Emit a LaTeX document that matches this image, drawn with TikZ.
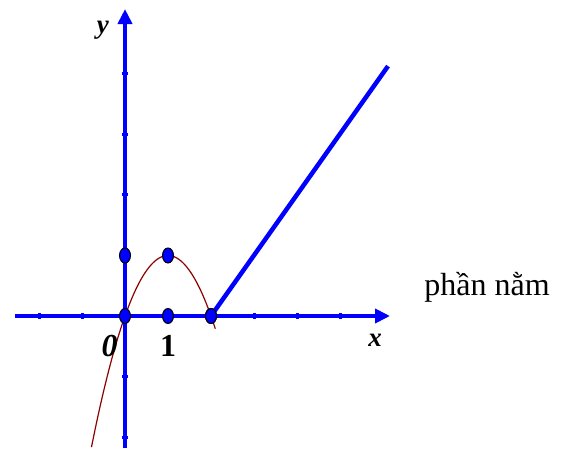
\documentclass[tikz,border=0pt]{standalone}
\usepackage{fontspec}
\setmainfont{Liberation Serif}
\usetikzlibrary{arrows.meta,shapes.geometric}
\definecolor{axblue}{RGB}{0,0,255}
\definecolor{curvered}{RGB}{140,0,0}
\begin{document}
\begin{tikzpicture}[x=43pt,y=60.5pt,
  axis/.style={line width=4.5pt,draw=axblue,-{Triangle[length=15pt,width=14pt]}},
  tickmark/.style={line width=3pt,draw=axblue},
  dotpt/.style={ellipse,draw=black,line width=1pt,fill=axblue,minimum width=11pt,minimum height=15pt,inner sep=0pt},
  lbl/.style={font=\fontsize{27}{29}\selectfont\itshape\bfseries},
  numlbl/.style={font=\fontsize{32}{34}\selectfont\bfseries}
]
\useasboundingbox (-2.907,-2.182) rectangle (10.209,5.223);
\coordinate (xs) at (-2.558,0);
\coordinate (xe) at (6.163,0);
\coordinate (ys) at (0,-2.182);
\coordinate (ye) at (0,5.074);
\coordinate (lend) at (6.116,4.13);
% ticks
\foreach \t in {-2,-1,3,4,5} \draw[tickmark] (\t,-0.05) -- (\t,0.05);
\foreach \t in {-2,-1,2,3,4} \draw[tickmark] (-0.07,\t) -- (0.07,\t);
% axes
\draw[axis] (xs) -- (xe);
\draw[axis] (ys) -- (ye);
% curve
\draw[curvered,line width=1.2pt,domain=-0.78:2.1,samples=80] plot (\x,{\x*(2-\x)});
% line
\node[dotpt] (p2) at (2,0) {};
\draw[axblue,line width=4.5pt] (p2.center) -- (lend);
% points
\node[dotpt] (o) at (0,0) {};
\node[dotpt] (p1) at (1,0) {};
\node[dotpt] (q1) at (0,1) {};
\node[dotpt] (m) at (1,1) {};
\node[dotpt] at (2,0) {};
% labels
\node[lbl] (ly) at (-0.512,4.72) {y};
\node[lbl] (lx) at (5.814,-0.40) {x};
\node[numlbl,font=\fontsize{32}{34}\selectfont\itshape\bfseries] (l0) at (-0.36,-0.49) {0};
\node[numlbl] (l1) at (1,-0.49) {1};
\node[font=\fontsize{32}{34}\selectfont] (txt) at (8.42,0.48) {phần nằm};
\end{tikzpicture}
\end{document}
